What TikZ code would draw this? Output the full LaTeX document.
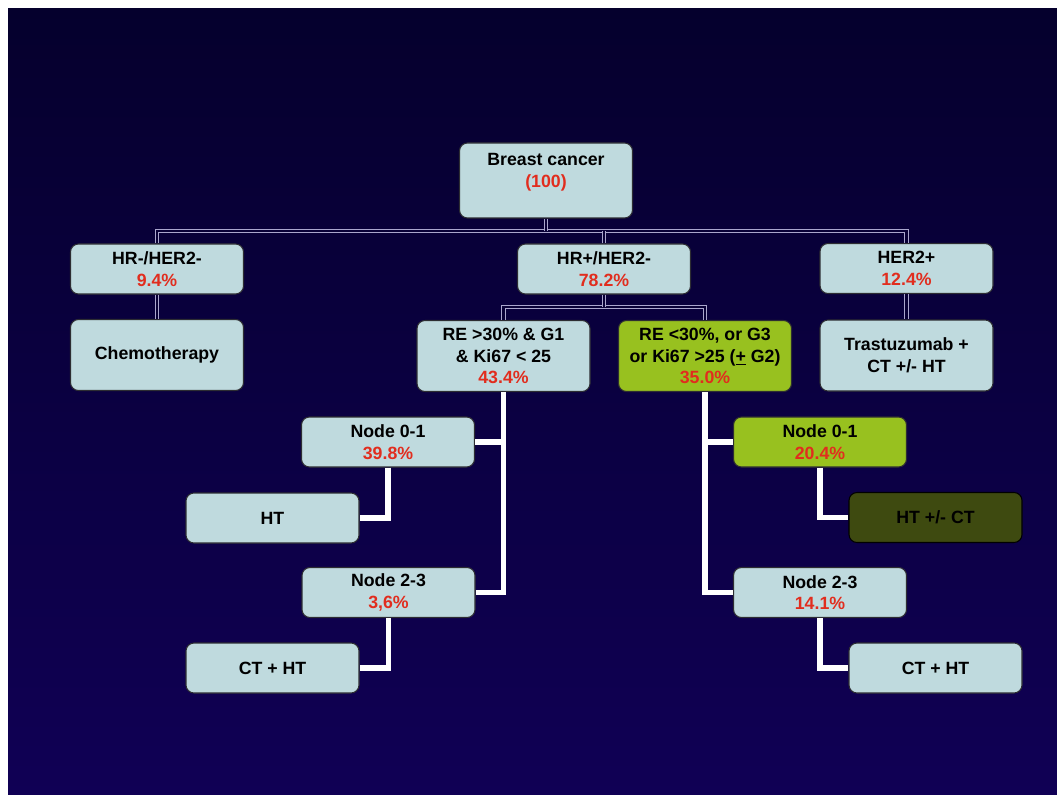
\documentclass[tikz,border=0pt]{standalone}
\usepackage{fontspec}
\setmainfont{Liberation Sans}
\definecolor{bgtop}{RGB}{5,0,45}
\definecolor{bgbot}{RGB}{16,0,85}
\definecolor{boxfill}{RGB}{191,218,222}
\definecolor{boxline}{RGB}{45,45,50}
\definecolor{lime}{RGB}{152,193,31}
\definecolor{olive}{RGB}{62,74,16}
\definecolor{pctred}{RGB}{225,45,30}
\definecolor{lav}{RGB}{170,166,205}
\definecolor{dblbg}{RGB}{8,0,54}
\newcommand{\pct}[1]{\textcolor{pctred}{#1}}
\tikzset{
  box/.style={draw=boxline, line width=0.8pt, rounded corners=6pt, fill=boxfill,
    align=center, text=black, inner sep=0pt, minimum width=129.75pt, minimum height=37.5pt,
    font=\bfseries\fontsize{13.3}{16.2}\selectfont},
  tall/.style={minimum height=53.25pt},
  greenbox/.style={fill=lime},
  olivebox/.style={fill=olive, draw=black},
  txt/.style={align=center, text=black, inner sep=0pt, font=\bfseries\fontsize{13.3}{16.2}\selectfont},
  dbl/.style={draw=lav, line width=0.9pt, double=dblbg, double distance=1.6pt},
  wl/.style={draw=white, line width=4.3pt}
}
\begin{document}
\begin{tikzpicture}[x=0.75pt, y=-0.75pt]
\useasboundingbox (0,0) rectangle (1057,795);
\fill[white] (0,0) rectangle (1057,795);
\shade[top color=bgtop, bottom color=bgbot] (8,9) rectangle (1057,795);

% boxes
\node[box, minimum height=56.25pt] (bc) at (546,180.5) {};
\node[txt] (bct) at (546,172) {Breast cancer\\\pct{(100)}};
\node[box] (hrn) at (157,269) {HR-/HER2-\\\pct{9.4\%}};
\node[box, tall] (chemo) at (157,355) {Chemotherapy};
\node[box] (hrp) at (604,269) {HR+/HER2-\\\pct{78.2\%}};
\node[box] (her2) at (906.5,268.5) {HER2+\\\pct{12.4\%}};
\node[box, tall] (tras) at (906.5,355.5) {Trastuzumab +\\CT +/- HT};
\node[box, tall] (reA) at (503.5,356) {RE >30\% \& G1\\\& Ki67 < 25\\\pct{43.4\%}};
\node[box, tall, greenbox] (reB) at (705,356) {RE <30\%, or G3\\or Ki67 >25 (\underline{+} G2)\\\pct{35.0\%}};
\node[box] (n01L) at (388,442) {Node 0-1\\\pct{39.8\%}};
\node[box] (htL) at (272.5,518) {HT};
\node[box] (n23L) at (388.5,592.5) {Node 2-3\\\pct{3,6\%}};
\node[box] (cthtL) at (272.5,668) {CT + HT};
\node[box, greenbox] (n01R) at (820,442) {Node 0-1\\\pct{20.4\%}};
\node[box, olivebox] (htctR) at (935.5,517.5) {HT +/- CT};
\node[box] (n23R) at (820,592.5) {Node 2-3\\\pct{14.1\%}};
\node[box] (cthtR) at (935.5,668) {CT + HT};

% double connectors
\coordinate (bar1) at (546,231);
\coordinate (bar2) at (604,307);
\draw[dbl] (hrn.north) -- (hrn.north |- bar1) -- (her2.north |- bar1) -- (her2.north);
\draw[dbl] (bc.south) -- (bar1);
\draw[dbl] (hrp.north) -- (hrp.north |- bar1);
\draw[dbl] (hrn.south) -- (chemo.north);
\draw[dbl] (her2.south) -- (tras.north);
\draw[dbl] (reA.north) -- (reA.north |- bar2) -- (reB.north |- bar2) -- (reB.north);
\draw[dbl] (hrp.south) -- (bar2);

% white connectors
\draw[wl] (reA.south) |- (n23L.east);
\draw[wl] (reA.south |- n01L.east) -- (n01L.east);
\draw[wl] (n01L.south) |- (htL.east);
\draw[wl] (n23L.south) |- (cthtL.east);
\draw[wl] (reB.south) |- (n23R.west);
\draw[wl] (reB.south |- n01R.west) -- (n01R.west);
\draw[wl] (n01R.south) |- (htctR.west);
\draw[wl] (n23R.south) |- (cthtR.west);
\end{tikzpicture}
\end{document}
